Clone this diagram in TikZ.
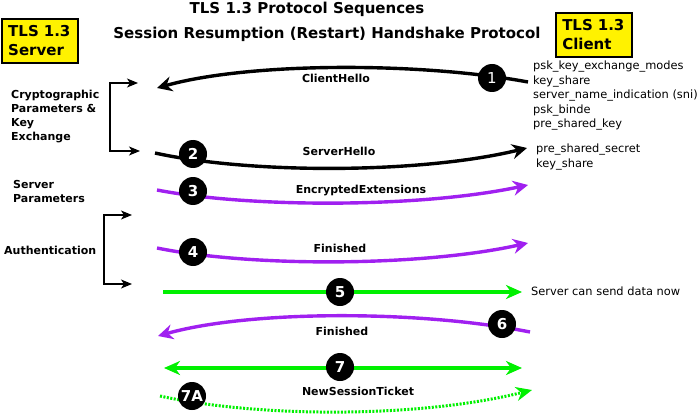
\documentclass[tikz,border=0pt]{standalone}
\usepackage{fontspec}
\setmainfont{DejaVu Sans}
\usetikzlibrary{arrows.meta}
\definecolor{tlspurple}{RGB}{160,32,240}
\definecolor{tlsgreen}{RGB}{0,240,0}
\tikzset{gtip/.tip={Stealth[length=16pt,width=14pt,inset=5pt]}}
\begin{document}
\begin{tikzpicture}[x=1pt,y=-1pt,
  badge/.style={circle,fill=black,text=white,minimum size=28pt,inner sep=0pt,font=\fontsize{15}{15}\selectfont\bfseries},
  msg/.style={font=\fontsize{11}{13}\selectfont\bfseries,inner sep=0pt,text height=8pt,text depth=0pt},
  side/.style={font=\fontsize{11}{14}\selectfont\bfseries,align=left,inner sep=0pt,anchor=west},
  note/.style={font=\fontsize{11.4}{14.5}\selectfont,align=left,inner sep=0pt,anchor=west},
  bigtip/.style={-{Stealth[length=15pt,width=15pt,inset=5pt]}},
  blk/.style={line width=3.4pt,black,bigtip},
  prp/.style={line width=3.4pt,tlspurple,bigtip},
  grn/.style={line width=4pt,tlsgreen},
  brk/.style={line width=1.6pt,-{Stealth[length=11pt,width=9pt,inset=3pt]}},
  tlsbox/.style={draw=black,line width=2pt,fill=yellow,align=left,text width=63.5pt,inner xsep=6pt,minimum height=44pt,font=\fontsize{15}{19}\selectfont\bfseries},
  titlef/.style={font=\fontsize{15}{15}\selectfont\bfseries,inner sep=0pt}
]
\useasboundingbox (0,0) rectangle (700,414);
\fill[white] (0,0) rectangle (700,414);

% titles
\node[titlef] (t1) at (307,9) {TLS 1.3 Protocol Sequences};
\node[titlef] (t2) at (327,34) {Session Resumption (Restart) Handshake Protocol};

% boxes
\node[tlsbox] (srv) at (40,41) {TLS 1.3\\Server};
\node[tlsbox] (cli) at (594,35) {TLS 1.3\\Client};

% side labels
\node[side] (crypto) at (11,117) {Cryptographic\\Parameters \&\\Key\\Exchange};
\node[side] (spar) at (13,191) {Server\\Parameters};
\node[side] (auth) at (4,250) {Authentication};

% client notes
\node[note] (cnotes) at (533,96) {psk\_key\_exchange\_modes\\key\_share\\server\_name\_indication (sni)\\psk\_binde\\pre\_shared\_key};
\node[note] (snotes) at (536,157) {pre\_shared\_secret\\key\_share};
\node[note] (sdata) at (531,291) {Server can send data now};

% brackets
\coordinate (b1m) at (110,117);
\coordinate (b1t) at (138,83);
\coordinate (b1b) at (140,151);
\draw[brk] (b1m) |- (b1t);
\draw[brk] (b1m) |- (b1b);
\coordinate (b2m) at (104,250);
\coordinate (b2t) at (132,215);
\coordinate (b2b) at (132,284);
\draw[brk] (b2m) |- (b2t);
\draw[brk] (b2m) |- (b2b);

% endpoints
\coordinate (a1s) at (528,82);  \coordinate (a1e) at (157,88);
\coordinate (a2s) at (155,153); \coordinate (a2e) at (527,148);
\coordinate (a3s) at (157,190); \coordinate (a3e) at (528,185);
\coordinate (a4s) at (157,248); \coordinate (a4e) at (528,243);
\coordinate (a5s) at (163,292); \coordinate (a5e) at (522,292);
\coordinate (a6s) at (530,332); \coordinate (a6e) at (158,336);
\coordinate (a7s) at (164,368); \coordinate (a7e) at (522,368);
\coordinate (a8s) at (160,396); \coordinate (a8e) at (532,390);

% messages
\draw[blk] (a1s) .. controls (420,62) and (250,62) .. (a1e);
\draw[blk] (a2s) .. controls (250,174) and (420,174) .. (a2e);
\draw[prp] (a3s) .. controls (250,208) and (420,208) .. (a3e);
\draw[prp] (a4s) .. controls (250,267) and (420,267) .. (a4e);
\draw[grn,-{gtip}] (a5s) -- (a5e);
\draw[prp] (a6s) .. controls (420,310) and (250,310) .. (a6e);
\draw[grn,{gtip}-{gtip}] (a7s) -- (a7e);
\draw[line width=3pt,tlsgreen,dash pattern=on 2pt off 1.5pt,-{gtip}] (a8s) .. controls (260,418) and (420,418) .. (a8e);

% labels
\node[msg] (l1) at (336,79) {ClientHello};
\node[msg] (l2) at (339,151) {ServerHello};
\node[msg] (l3) at (361,189) {EncryptedExtensions};
\node[msg] (l4) at (340,248) {Finished};
\node[msg] (l6) at (342,331) {Finished};
\node[msg] (l7) at (358,391) {NewSessionTicket};

% badges
\node[badge,font=\fontsize{15}{15}\selectfont] (n1) at (492,78) {1};
\node[badge] (n2) at (193,154) {2};
\node[badge] (n3) at (193,191) {3};
\node[badge] (n4) at (193,252) {4};
\node[badge] (n5) at (340,292) {5};
\node[badge] (n6) at (502,324) {6};
\node[badge] (n7) at (340,367) {7};
\node[badge] (n7a) at (192,396) {7A};
\end{tikzpicture}
\end{document}
